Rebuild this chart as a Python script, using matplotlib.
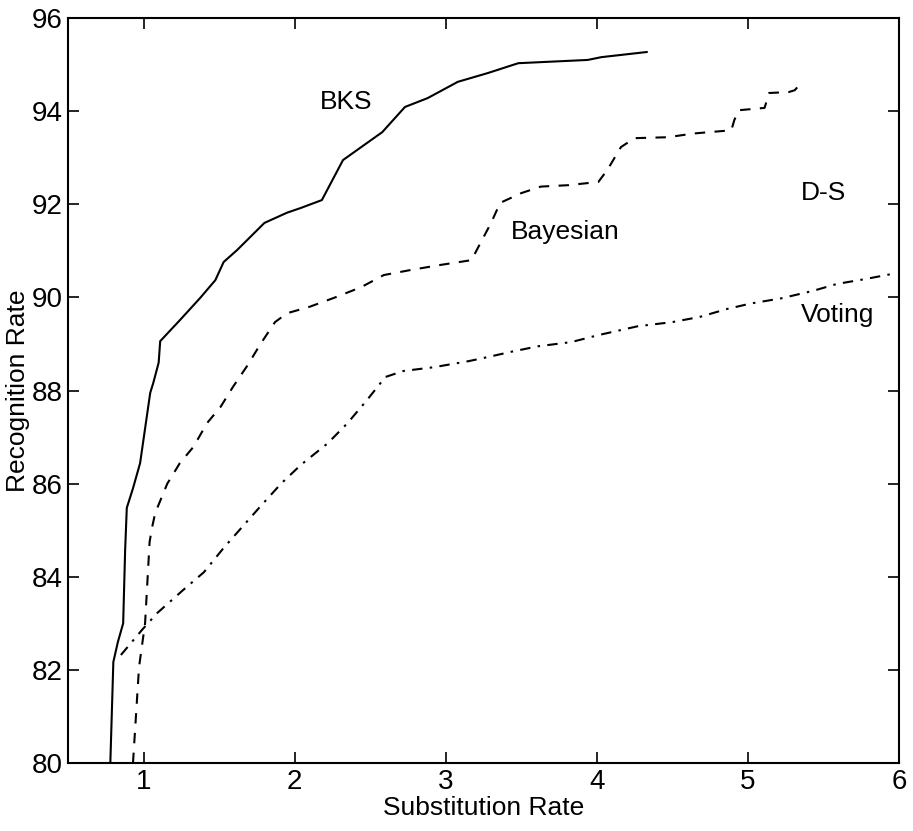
import matplotlib
matplotlib.use('Agg')
import matplotlib.pyplot as plt

plt.rcParams['font.family'] = ['Liberation Sans', 'DejaVu Sans']

# BKS (solid)
bks_x = [0.78, 0.80, 0.83, 0.865, 0.878, 0.889, 0.93, 0.977, 1.044, 1.064, 1.10, 1.11,
         1.24, 1.375, 1.475, 1.53, 1.62, 1.80, 1.95, 2.04, 2.18, 2.32, 2.58, 2.73,
         2.88, 3.08, 3.28, 3.48, 3.94, 4.03, 4.33]
bks_y = [80.0, 82.17, 82.6, 83.0, 84.57, 85.48, 85.9, 86.44, 87.95, 88.16, 88.6, 89.06,
         89.51, 89.99, 90.37, 90.76, 91.02, 91.6, 91.82, 91.92, 92.09, 92.95, 93.55, 94.09,
         94.28, 94.63, 94.82, 95.03, 95.10, 95.16, 95.27]

# Bayesian (dashed)
bay_x = [0.93, 0.97, 1.01, 1.04, 1.057, 1.077, 1.157, 1.24, 1.33, 1.42, 1.51, 1.59,
         1.69, 1.77, 1.87, 1.95, 2.10, 2.26, 2.44, 2.59, 2.77, 2.97, 3.17, 3.23, 3.30,
         3.36, 3.50, 3.63, 3.81, 4.01, 4.07, 4.16, 4.25, 4.47, 4.64, 4.89, 4.91, 4.94,
         5.11, 5.14, 5.27, 5.31, 5.35]
bay_y = [80.0, 82.06, 83.0, 84.75, 85.07, 85.37, 86.0, 86.44, 86.79, 87.3, 87.65, 88.07,
         88.55, 88.98, 89.47, 89.66, 89.8, 89.99, 90.22, 90.48, 90.59, 90.7, 90.8, 91.17,
         91.6, 92.03, 92.24, 92.38, 92.41, 92.48, 92.74, 93.23, 93.42, 93.44, 93.52, 93.59,
         93.81, 94.02, 94.07, 94.39, 94.41, 94.45, 94.6]

# Voting (dash-dot)
vot_x = [0.85, 0.99, 1.09, 1.26, 1.40, 1.53, 1.77, 1.91, 2.04, 2.22, 2.35, 2.48, 2.60,
         2.72, 2.92, 3.15, 3.28, 3.43, 3.61, 3.83, 4.01, 4.27, 4.50, 4.68, 4.86, 5.02,
         5.22, 5.43, 5.59, 5.77, 5.98]
vot_y = [82.32, 82.86, 83.22, 83.71, 84.1, 84.62, 85.5, 86.0, 86.4, 86.87, 87.3, 87.8, 88.29,
         88.42, 88.5, 88.63, 88.72, 88.83, 88.95, 89.04, 89.19, 89.38, 89.47, 89.58, 89.75,
         89.87, 89.98, 90.14, 90.29, 90.39, 90.52]

labels = ['BKS', 'Bayesian', 'D-S', 'Voting']
label_x = [2.34, 3.79, 5.50, 5.59]
label_y = [94.2, 91.4, 92.24, 89.62]

fig = plt.figure(figsize=(9.13, 8.31), dpi=100)
ax = fig.add_axes([0.0745, 0.0818, 0.9102, 0.8965])

ax.plot(bks_x, bks_y, 'k-', lw=1.5)
ax.plot(bay_x, bay_y, 'k', ls=(0, (5, 4.5)), lw=1.5)
ax.plot(vot_x, vot_y, 'k', ls=(0, (5, 3.5, 1.2, 3.5)), lw=1.5)

for t, x, y in zip(labels, label_x, label_y):
    ax.text(x, y, t, ha='center', va='center', fontsize=19)

ax.set_xlim(0.5, 6)
ax.set_ylim(80, 96)
ax.set_xticks([1, 2, 3, 4, 5, 6])
ax.set_yticks([80, 82, 84, 86, 88, 90, 92, 94, 96])
ax.tick_params(direction='in', length=8, width=1.2, top=True, right=True, labelsize=20, pad=4)
for s in ax.spines.values():
    s.set_linewidth(1.5)
ax.set_xlabel('Substitution Rate', fontsize=19, labelpad=1)
ax.set_ylabel('Recognition Rate', fontsize=19, labelpad=1)

fig.savefig('out.png', dpi=100)
